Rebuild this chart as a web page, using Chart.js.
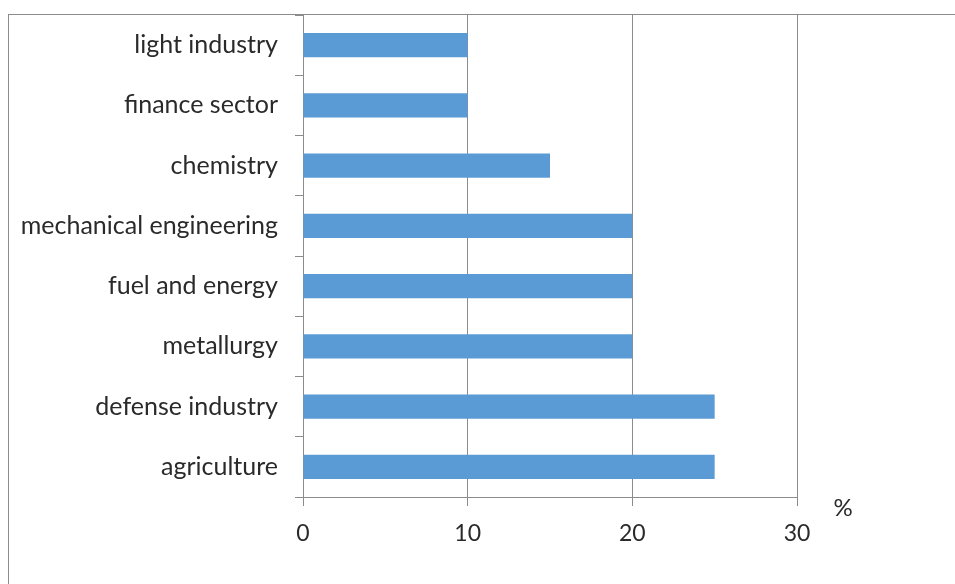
<!DOCTYPE html>
<html><head><meta charset="utf-8">
<script src="https://cdn.jsdelivr.net/npm/chart.js@4"></script>
<style>html,body{margin:0;padding:0;background:#fff}#wrap{width:955px;height:584px}</style>
</head><body><div id="wrap"><canvas id="c" width="955" height="584"></canvas></div>
<script>
const categories = ["light industry","finance sector","chemistry","mechanical engineering","fuel and energy","metallurgy","defense industry","agriculture"];
const values = [10,10,15,20,20,20,25,25];
const xTicks = [0,10,20,30];
const unitLabel = "%";

const FONT = "Lato, 'Open Sans', sans-serif";
const TEXT = '#2a2a2a';
const frame = {
  id:'frame',
  beforeDraw(chart){
    const ctx = chart.ctx;
    ctx.save();
    ctx.strokeStyle = '#8c8c8c';
    ctx.lineWidth = 1;
    ctx.strokeRect(8.5, 14.5, 980, 620);
    ctx.restore();
  },
  afterDraw(chart){
    const ctx = chart.ctx;
    ctx.save();
    ctx.fillStyle = TEXT;
    ctx.font = "24px " + FONT;
    ctx.textAlign = 'center';
    ctx.textBaseline = 'middle';
    ctx.fillText(unitLabel, 843, 508);
    ctx.restore();
  }
};

new Chart(document.getElementById('c'), {
  type:'bar',
  data:{labels:categories, datasets:[{data:values, backgroundColor:'#5b9bd5', barPercentage:0.4, categoryPercentage:1}]},
  options:{
    indexAxis:'y', responsive:false, animation:false,
    layout:{padding:{top:15,right:158,left:0,bottom:0}},
    plugins:{legend:{display:false}, tooltip:{enabled:false}},
    scales:{
      x:{min:0,max:30,
        afterBuildTicks(s){ s.ticks = xTicks.map(v=>({value:v})); },
        afterFit(s){ s.height = 584-497; s.paddingLeft = 0; s.paddingRight = 0; },
        grid:{color:'#8c8c8c', lineWidth:1, tickLength:9, drawTicks:true},
        border:{color:'#8c8c8c'},
        ticks:{font:{family:FONT,size:23}, color:TEXT, padding:14}
      },
      y:{
        afterFit(s){ s.width = 303; s.paddingTop = 0; s.paddingBottom = 0; },
        grid:{drawOnChartArea:false, color:'#8c8c8c', tickLength:8, offset:true},
        border:{color:'#8c8c8c'},
        ticks:{font:{family:FONT,size:25}, color:TEXT, padding:17}
      }
    }
  },
  plugins:[frame]
});
</script></body></html>
